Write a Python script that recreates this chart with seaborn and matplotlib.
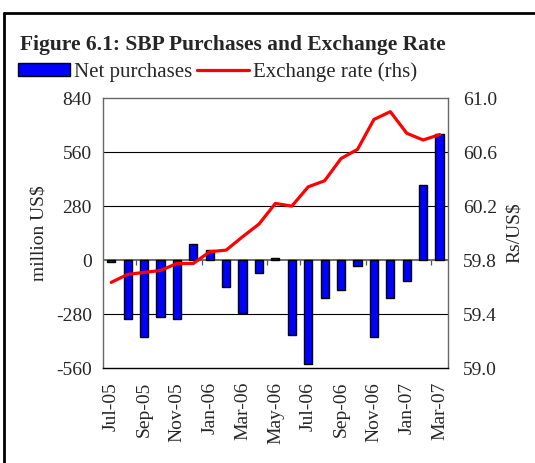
import numpy as np
import pandas as pd
import seaborn as sns
import matplotlib.pyplot as plt
from matplotlib.lines import Line2D
from matplotlib.patches import Patch

months = ['Jul-05', 'Aug-05', 'Sep-05', 'Oct-05', 'Nov-05', 'Dec-05',
          'Jan-06', 'Feb-06', 'Mar-06', 'Apr-06', 'May-06', 'Jun-06',
          'Jul-06', 'Aug-06', 'Sep-06', 'Oct-06', 'Nov-06', 'Dec-06',
          'Jan-07', 'Feb-07', 'Mar-07']
net_purchases = [-10, -303, -398, -293, -303, 81, 52, -139, -274, -68, 12, -390,
                 -537, -194, -156, -31, -398, -194, -107, 390, 653]
exchange_rate = [59.635, 59.694, 59.709, 59.723, 59.775, 59.775, 59.862, 59.874,
                 59.973, 60.067, 60.22, 60.20, 60.343, 60.388, 60.553, 60.62,
                 60.842, 60.90, 60.74, 60.69, 60.73]

left_ticks = [-560, -280, 0, 280, 560, 840]
right_ticks = [59.0, 59.4, 59.8, 60.2, 60.6, 61.0]

df = pd.DataFrame({'month': months, 'net': net_purchases, 'rate': exchange_rate})
df['pos'] = np.arange(len(df))

sns.set_style('white')
plt.rcParams['font.family'] = ['Liberation Serif', 'DejaVu Serif']
plt.rcParams['font.size'] = 14

fig = plt.figure(figsize=(5.35, 4.63), dpi=100)
ax = fig.add_axes([0.1925, 0.205, 0.6445, 0.583])

for y in [-280, 280, 560]:
    ax.axhline(y, color='black', lw=0.8, zorder=0)

sns.barplot(data=df, x='month', y='net', color='#0000FF', edgecolor='black',
            linewidth=1.0, width=0.5, saturation=1, ax=ax, zorder=2)
ax.axhline(0, color='#555555', lw=1.2, zorder=1)
# small category ticks hanging from the zero line
ax.vlines([1.5, 5.5, 9.5, 11.5, 15.5, 19.5], -26, 0, color='#555555', lw=0.9, zorder=1)

ax.set_ylim(-560, 840)
ax.set_xlim(-0.5, len(months) - 0.5)
ax.set_yticks(left_ticks)
ax.set_yticklabels([str(t) for t in left_ticks])
ax.set_xticks(df['pos'][::2])
ax.set_xticklabels(df['month'][::2], rotation=90)
ax.tick_params(axis='both', length=0, labelsize=14, pad=8)
ax.tick_params(axis='x', pad=10)
ax.set_xlabel('')
ax.set_ylabel('million US$', fontsize=14, labelpad=6)
for s in ax.spines.values():
    s.set_color('#666666')
    s.set_linewidth(1.0)
ax.spines['bottom'].set_color('black')

ax2 = ax.twinx()
sns.lineplot(data=df, x='pos', y='rate', color='#FF0000', lw=2.3, ax=ax2, zorder=3)
ax2.set_ylim(59.0, 61.0)
ax2.set_yticks(right_ticks)
ax2.set_yticklabels([f'{t:.1f}' for t in right_ticks])
ax2.tick_params(axis='y', length=0, labelsize=14, pad=11)
ax2.set_ylabel('Rs/US$', fontsize=14, labelpad=6)
ax2.set_xlabel('')
for s in ax2.spines.values():
    s.set_visible(False)

fig.text(0.037, 1 - 45 / 463, 'Figure 6.1: SBP Purchases and Exchange Rate',
         fontsize=15.5, fontweight='bold', va='center', ha='left')

handles = [Patch(facecolor='#0000FF', edgecolor='black', lw=1.0),
           Line2D([0], [0], color='#FF0000', lw=2.3)]
fig.legend(handles, ['Net purchases', 'Exchange rate (rhs)'], loc='center left',
           bbox_to_anchor=(0.034, 1 - 72 / 463), ncol=2, frameon=False,
           fontsize=15, handlelength=2.5, handleheight=0.55, handletextpad=0.2,
           columnspacing=0.2, borderpad=0, borderaxespad=0)

# outer frame (only left and top edges fall inside the image)
fig.add_artist(Line2D([4 / 535, 4 / 535], [0, 1 - 13 / 463], color='black', lw=2,
                      transform=fig.transFigure))
fig.add_artist(Line2D([4 / 535, 1], [1 - 13 / 463, 1 - 13 / 463], color='black', lw=2,
                      transform=fig.transFigure))

fig.savefig('out.png', dpi=100)
